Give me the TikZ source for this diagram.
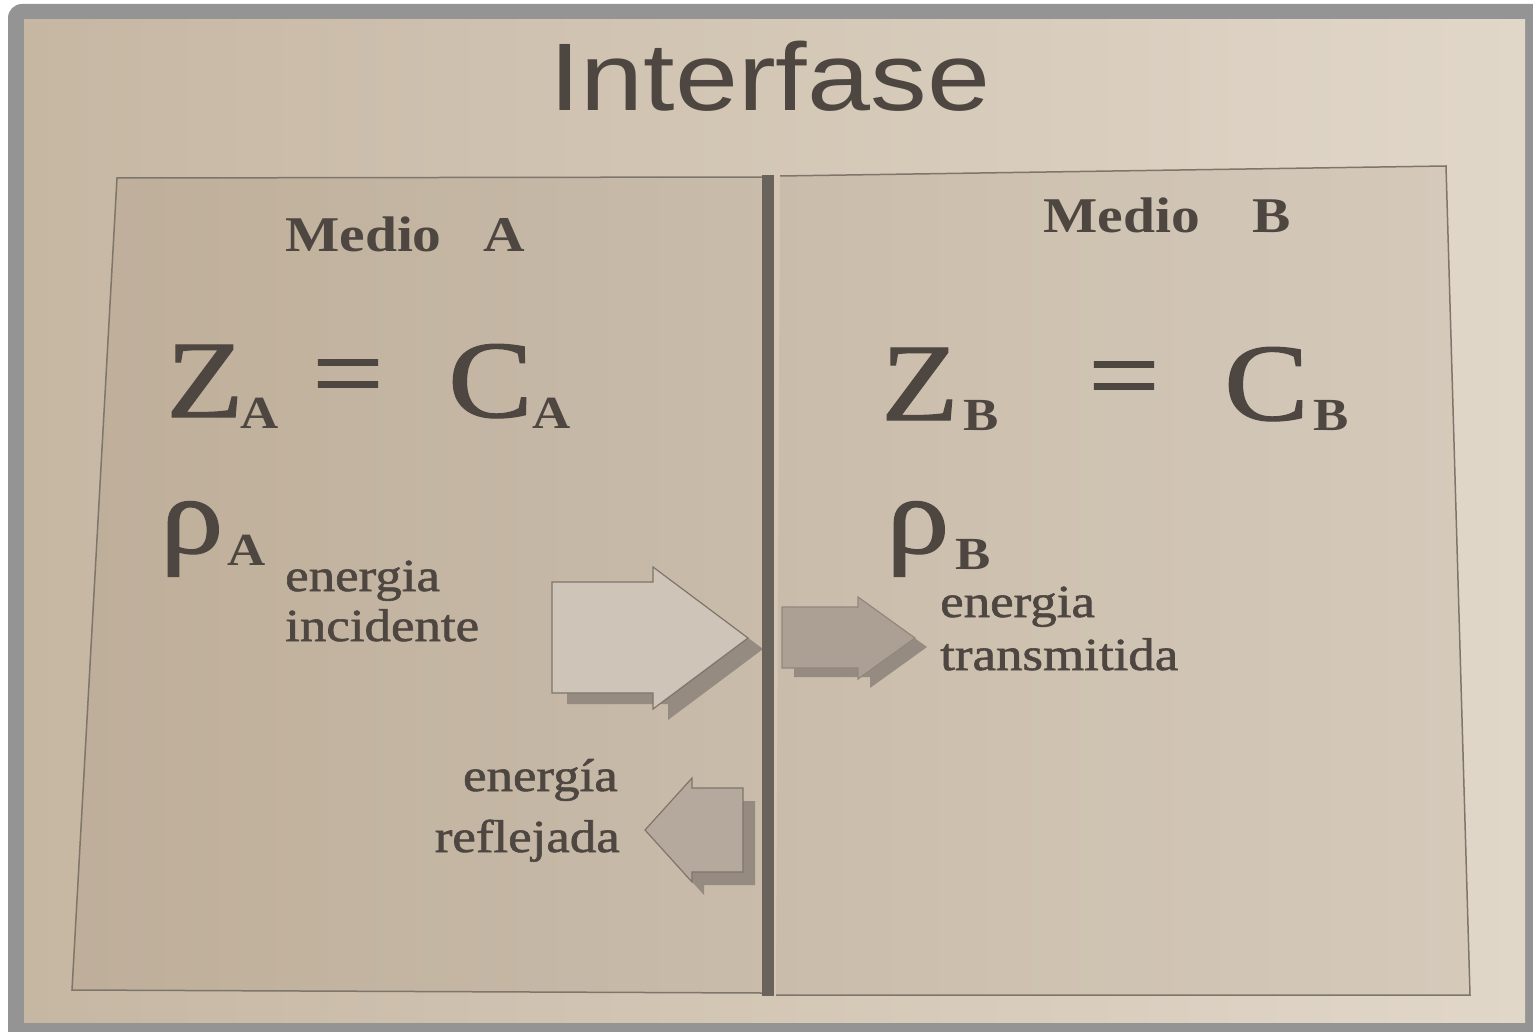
\documentclass[tikz,border=0pt]{standalone}
\usepackage{fontspec}
\setmainfont{Liberation Serif}
\newfontfamily\titlefont{Liberation Sans}
\newfontfamily\inkserif[FakeBold=1.2]{Liberation Serif}
\usepackage{xcolor}
\definecolor{frameGray}{HTML}{949494}
\definecolor{paperL}{HTML}{C6B7A3}
\definecolor{paperR}{HTML}{E1D7C9}
\definecolor{ink}{HTML}{4E4640}
\definecolor{edge}{HTML}{7E756B}
\definecolor{wall}{HTML}{6A635C}
\definecolor{inFill}{HTML}{CEC4B7}
\definecolor{trFill}{HTML}{ABA093}
\definecolor{reFill}{HTML}{B4A99C}
\definecolor{shadowCol}{HTML}{958B80}

\begin{document}
\begin{tikzpicture}[x=1pt, y=-1pt,
    txt/.style={inner sep=0pt, anchor=base west, text=ink, xscale=1.15},
    big/.style={txt, font=\inkserif\fontsize{110}{110}\selectfont},
    sub/.style={txt, font=\fontsize{46}{46}\selectfont\bfseries},
    medio/.style={txt, font=\fontsize{50}{50}\selectfont\bfseries},
    small/.style={txt, font=\inkserif\fontsize{46}{46}\selectfont},
    panel/.style={draw=edge, line width=1.5pt},
    blockarrow/.style={fill=#1, draw=edge, line width=1.2pt},
    blockshadow/.style={fill=shadowCol}]
    \useasboundingbox (0,0) rectangle (1533,1032);

    % frame and paper
    \fill[frameGray, rounded corners=14pt] (8,4) rectangle (1560,1060);
    \shade[left color=paperL, right color=paperR] (24,20) rectangle (1525,1022);

    % the two media
    \fill[black!60!brown, opacity=0.07] (117,178) -- (763,177) -- (762,993) -- (72,990) -- cycle;
    \fill[black!60!brown, opacity=0.07] (780,176) -- (1446,166) -- (1470,995) -- (776,995) -- cycle;
    \draw[panel] (763,177) -- (117,178) -- (72,990) -- (762,993);
    \draw[panel] (780,176) -- (1446,166) -- (1470,995) -- (776,995);

    % incident energy
    \fill[blockshadow, shift={(15,11)}] (552,582) -- (653,582) -- (653,567) -- (748,638) -- (653,709) -- (653,693) -- (552,693) -- cycle;
    \draw[blockarrow=inFill] (552,582) -- (653,582) -- (653,567) -- (748,638) -- (653,709) -- (653,693) -- (552,693) -- cycle;

    % transmitted energy
    \fill[blockshadow, shift={(12,9)}] (782,607) -- (858,607) -- (858,597) -- (915,638) -- (858,679) -- (858,668) -- (782,668) -- cycle;
    \draw[blockarrow=trFill, draw=trFill!85!black] (782,607) -- (858,607) -- (858,597) -- (915,638) -- (858,679) -- (858,668) -- (782,668) -- cycle;

    % reflected energy
    \fill[blockshadow, shift={(12,13)}] (743,788) -- (692,788) -- (692,778) -- (645,830) -- (692,882) -- (692,872) -- (743,872) -- cycle;
    \draw[blockarrow=reFill] (743,788) -- (692,788) -- (692,778) -- (645,830) -- (692,882) -- (692,872) -- (743,872) -- cycle;

    % interface
    \draw[wall, line width=12pt] (768,175) -- (768,996);

    \node[txt, font=\titlefont\fontsize{96}{96}\selectfont, xscale=1.18/1.15] (title) at (549,111) {Interfase};

    \node[medio] (medioA) at (285,252) {Medio\hspace{36pt}A};
    \node[medio] (medioB) at (1043,233) {Medio\hspace{46pt}B};

    \node[big] (zA) at (166,417) {Z};
    \node[sub] (zAsub) at (240,428) {A};
    \node[big] (eqA) at (312,410) {=};
    \node[big] (cA) at (448,417) {C};
    \node[sub] (cAsub) at (532,428) {A};
    \node[big] (rhoA) at (160,553) {ρ};
    \node[sub] (rhoAsub) at (227,565) {A};

    \node[big] (zB) at (881,420) {Z};
    \node[sub] (zBsub) at (963,430) {B};
    \node[big] (eqB) at (1088,412) {=};
    \node[big] (cB) at (1224,420) {C};
    \node[sub] (cBsub) at (1313,430) {B};
    \node[big] (rhoB) at (886,553) {ρ};
    \node[sub] (rhoBsub) at (955,569) {B};

    \node[small] (incA) at (285,591) {energia};
    \node[small] (incB) at (285,641) {incidente};
    \node[small] (trA) at (940,617) {energia};
    \node[small] (trB) at (940,670) {transmitida};
    \node[small, anchor=base east] (refA) at (618,791) {energía};
    \node[small, anchor=base east] (refB) at (620,852) {reflejada};
\end{tikzpicture}
\end{document}
